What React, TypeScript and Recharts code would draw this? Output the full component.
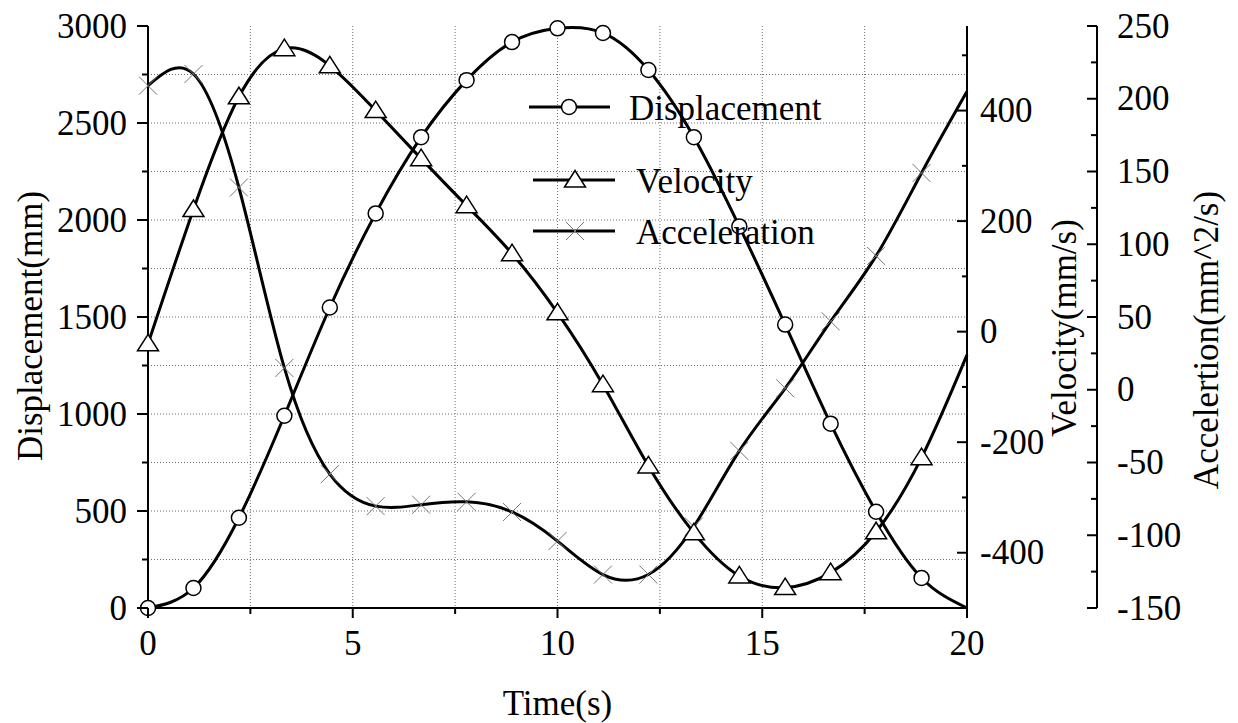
import { CartesianGrid, Legend, Line, LineChart, XAxis, YAxis } from "recharts";

const FONT = '"Liberation Serif", "Times New Roman", serif';
const FONT_SIZE = 35;

// sample times (s); markers sit on every sample except the last one
const time = [0, 1.11, 2.22, 3.33, 4.44, 5.56, 6.67, 7.78, 8.89, 10, 11.11, 12.22, 13.33, 14.44, 15.56, 16.67, 17.78, 18.89, 20];
const displacement = [0, 103, 465, 991, 1549, 2034, 2427, 2721, 2917, 2988, 2964, 2773, 2427, 1967, 1461, 950, 496, 155, 0];
const velocity = [-22, 221, 425, 512, 481, 400, 313, 228, 141, 34, -96, -243, -364, -442, -463, -436, -362, -228, -42];
const acceleration = [209, 217, 139, 15, -58, -80, -79, -77, -84, -104, -127, -127, -94, -42, 1, 47, 92, 149, 205];
const markerCount = 18;

const seriesNames = ["Displacement", "Velocity", "Acceleration"];

const xTicks = [0, 2.5, 5, 7.5, 10, 12.5, 15, 17.5, 20];
const xLabels = [0, 5, 10, 15, 20];
const dispTicks = [0, 250, 500, 750, 1000, 1250, 1500, 1750, 2000, 2250, 2500, 2750, 3000];
const dispLabels = [0, 500, 1000, 1500, 2000, 2500, 3000];
const velTicks = [-400, -300, -200, -100, 0, 100, 200, 300, 400, 500];
const velLabels = [-400, -200, 0, 200, 400];
const accTicks = [-150, -125, -100, -75, -50, -25, 0, 25, 50, 75, 100, 125, 150, 175, 200, 225, 250];
const accLabels = [-150, -100, -50, 0, 50, 100, 150, 200, 250];

const rows = time.map((t, i) => ({
  t,
  disp: displacement[i],
  vel: velocity[i],
  acc: acceleration[i],
}));

const textStyle = { fontFamily: FONT, fontSize: FONT_SIZE, fill: "#000" };

function XTick({ x, y, payload }: any) {
  const major = xLabels.includes(payload.value);
  return (
    <g>
      <line x1={x} x2={x} y1={y} y2={y + (major ? 10 : 6)} stroke="#000" strokeWidth={2} />
      {major && (
        <text x={x} y={y + 47} textAnchor="middle" style={textStyle}>
          {payload.value}
        </text>
      )}
    </g>
  );
}

function LeftTick({ x, y, payload }: any) {
  const major = dispLabels.includes(payload.value);
  return (
    <g>
      <line x1={x - (major ? 11 : 6)} x2={x} y1={y} y2={y} stroke="#000" strokeWidth={2} />
      {major && (
        <text x={x - 21} y={y + 11.5} textAnchor="end" style={textStyle}>
          {payload.value}
        </text>
      )}
    </g>
  );
}

function VelTick({ x, y, payload }: any) {
  const major = velLabels.includes(payload.value);
  return (
    <g>
      <line x1={x - (major ? 10 : 5)} x2={x} y1={y} y2={y} stroke="#000" strokeWidth={2} />
      {major && (
        <text x={x + 13} y={y + 11.5} textAnchor="start" style={textStyle}>
          {payload.value}
        </text>
      )}
    </g>
  );
}

function AccTick({ x, y, payload }: any) {
  const major = accLabels.includes(payload.value);
  return (
    <g>
      <line x1={x - (major ? 10 : 6)} x2={x} y1={y} y2={y} stroke="#000" strokeWidth={2} />
      {major && (
        <text x={x + 20} y={y + 11.5} textAnchor="start" style={textStyle}>
          {payload.value}
        </text>
      )}
    </g>
  );
}

function AxisTitle({ viewBox, text, dx, dy, rotate }: any) {
  const { x, y, width, height } = viewBox;
  if (!rotate) {
    return (
      <text x={x + width / 2} y={y + dy} textAnchor="middle" style={textStyle}>
        {text}
      </text>
    );
  }
  const bx = x + dx;
  const cy = y + height / 2 + dy;
  return (
    <text x={bx} y={cy} textAnchor="middle" transform={`rotate(-90 ${bx} ${cy})`} style={textStyle}>
      {text}
    </text>
  );
}

function CircleMark(cx: number, cy: number) {
  return <circle cx={cx} cy={cy} r={7.5} fill="#fff" stroke="#000" strokeWidth={1.5} />;
}

function TriangleMark(cx: number, cy: number) {
  return (
    <polygon
      points={`${cx - 10.5},${cy + 7} ${cx + 10.5},${cy + 7} ${cx},${cy - 9.5}`}
      fill="#fff"
      stroke="#000"
      strokeWidth={1.5}
    />
  );
}

function CrossMark(cx: number, cy: number) {
  return (
    <g stroke="#777" strokeWidth={1}>
      <line x1={cx - 9} y1={cy - 9} x2={cx + 9} y2={cy + 9} />
      <line x1={cx - 9} y1={cy + 9} x2={cx + 9} y2={cy - 9} />
    </g>
  );
}

function dotRenderer(draw: (cx: number, cy: number) => any) {
  return (props: any) => {
    if (props.index >= markerCount || props.cx == null || props.cy == null) {
      return <g key={`d-${props.index}`} />;
    }
    return <g key={`d-${props.index}`}>{draw(props.cx, props.cy)}</g>;
  };
}

function LegendBox() {
  const items = [
    { name: seriesNames[0], y: 107, x1: 529, x2: 610, mx: 569, tx: 629, draw: CircleMark },
    { name: seriesNames[1], y: 180, x1: 533, x2: 615, mx: 575, tx: 636, draw: TriangleMark },
    { name: seriesNames[2], y: 231, x1: 533, x2: 615, mx: 575, tx: 636, draw: CrossMark },
  ];
  return (
    <svg width={1238} height={723} style={{ display: "block" }}>
      {items.map((it) => (
        <g key={it.name}>
          <line x1={it.x1} x2={it.x2} y1={it.y} y2={it.y} stroke="#000" strokeWidth={3} />
          {it.draw(it.mx, it.y)}
          <text x={it.tx} y={it.y + 13} style={textStyle}>
            {it.name}
          </text>
        </g>
      ))}
    </svg>
  );
}

export default function App() {
  return (
    <div style={{ position: "absolute", left: 0, top: 0, background: "#fff" }}>
      <LineChart width={1238} height={723} data={rows} margin={{ top: 26, right: 0, bottom: 0, left: 0 }}>
        <CartesianGrid
          yAxisId="disp"
          stroke="#6e6e6e"
          strokeWidth={1}
          strokeDasharray="1 2"
          horizontalValues={[250, 500, 750, 1000, 1250, 1500, 1750, 2000, 2250, 2500, 2750]}
          verticalValues={[2.5, 5, 7.5, 10, 12.5, 15, 17.5]}
        />
        <XAxis
          dataKey="t"
          type="number"
          domain={[0, 20]}
          ticks={xTicks}
          interval={0}
          height={115}
          tickSize={0}
          tickMargin={0}
          tickLine={false}
          axisLine={{ stroke: "#000", strokeWidth: 2 }}
          tick={<XTick />}
          label={<AxisTitle text="Time(s)" dy={107} />}
        />
        <YAxis
          yAxisId="disp"
          orientation="left"
          type="number"
          domain={[0, 3000]}
          ticks={dispTicks}
          interval={0}
          width={148}
          tickSize={0}
          tickMargin={0}
          tickLine={false}
          axisLine={{ stroke: "#000", strokeWidth: 2 }}
          tick={<LeftTick />}
          label={<AxisTitle text="Displacement(mm)" rotate dx={42} dy={9} />}
        />
        <YAxis
          yAxisId="a_vel"
          orientation="right"
          type="number"
          domain={[-500, 553]}
          allowDataOverflow
          ticks={velTicks}
          interval={0}
          width={130}
          tickSize={0}
          tickMargin={0}
          tickLine={false}
          axisLine={{ stroke: "#000", strokeWidth: 2 }}
          tick={<VelTick />}
          label={<AxisTitle text="Velocity(mm/s)" rotate dx={109} dy={11} />}
        />
        <YAxis
          yAxisId="b_acc"
          orientation="right"
          type="number"
          domain={[-150, 250]}
          ticks={accTicks}
          interval={0}
          width={141}
          tickSize={0}
          tickMargin={0}
          tickLine={false}
          axisLine={{ stroke: "#000", strokeWidth: 2 }}
          tick={<AccTick />}
          label={<AxisTitle text="Accelertion(mm^2/s)" rotate dx={121} dy={23} />}
        />
        <Legend
          layout="vertical"
          align="center"
          verticalAlign="middle"
          wrapperStyle={{ position: "absolute", left: 0, top: 0, width: 1238, height: 723, pointerEvents: "none" }}
          content={() => <LegendBox />}
        />
        <Line
          yAxisId="b_acc"
          dataKey="acc"
          name={seriesNames[2]}
          type="natural"
          stroke="#000"
          strokeWidth={3}
          dot={dotRenderer(CrossMark)}
          activeDot={false}
          isAnimationActive={false}
        />
        <Line
          yAxisId="disp"
          dataKey="disp"
          name={seriesNames[0]}
          type="natural"
          stroke="#000"
          strokeWidth={3}
          dot={dotRenderer(CircleMark)}
          activeDot={false}
          isAnimationActive={false}
        />
        <Line
          yAxisId="a_vel"
          dataKey="vel"
          name={seriesNames[1]}
          type="natural"
          stroke="#000"
          strokeWidth={3}
          dot={dotRenderer(TriangleMark)}
          activeDot={false}
          isAnimationActive={false}
        />
      </LineChart>
    </div>
  );
}
